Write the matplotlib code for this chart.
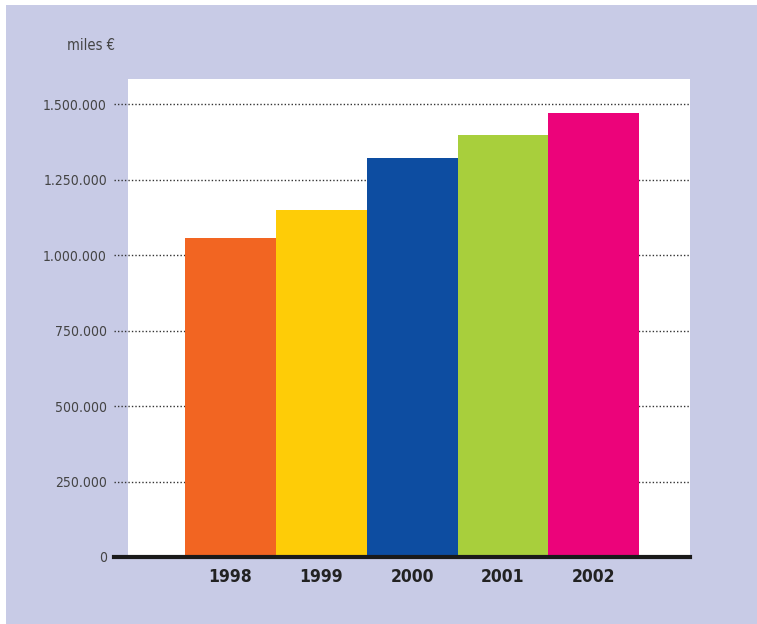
import matplotlib
matplotlib.use("Agg")
import matplotlib.pyplot as plt
from matplotlib.patches import Rectangle
from matplotlib.ticker import FuncFormatter, MultipleLocator
from matplotlib import font_manager

years = ["1998", "1999", "2000", "2001", "2002"]
values = [1056000, 1149000, 1321000, 1397000, 1470000]
colors = ["#F26522", "#FECC07", "#0D4DA1", "#A8CF3C", "#EC037A"]
unit_label = "miles €"

names = {f.name for f in font_manager.fontManager.ttflist}
fam = "Liberation Sans Narrow" if "Liberation Sans Narrow" in names else "DejaVu Sans"
plt.rcParams["font.family"] = [fam, "DejaVu Sans"]
plt.rcParams["font.stretch"] = "condensed"

W, H = 757, 624
fig = plt.figure(figsize=(W / 100, H / 100), dpi=100)
fig.patch.set_facecolor("white")
bg = "#C8CBE6"
fig.add_artist(Rectangle((6 / W, 0), 1 - 6 / W, 1 - 5 / H, transform=fig.transFigure,
                         facecolor=bg, edgecolor="none", zorder=-10))

ax = fig.add_axes([114 / W, 67 / H, 576 / W, 478 / H])
ax.set_facecolor("none")
ax.set_xlim(-1.283, 5.06)
ax.set_ylim(0, 1583000)

# white plot background
ax.axvspan(-1.129, 5.06, color="white", zorder=0, lw=0)

x = list(range(len(years)))
ax.bar(x, values, width=1.0, color=colors, zorder=2, linewidth=0)

ax.yaxis.set_major_locator(MultipleLocator(250000))
ax.yaxis.set_major_formatter(FuncFormatter(lambda v, p: f"{int(v):,}".replace(",", ".")))
ax.yaxis.grid(True, linestyle=(0, (1, 1.5)), color="#333333", linewidth=1.0, zorder=3)
for gl in ax.yaxis.get_gridlines():
    gl.set_zorder(3)

ax.set_xticks(x)
ax.set_xticklabels(years, fontsize=12.5, fontweight="bold", color="#222222", fontstretch="condensed")
for t in ax.get_yticklabels():
    t.set_fontstretch("condensed")
ax.tick_params(axis="x", length=0, pad=8)
ax.tick_params(axis="y", length=0, pad=5, labelsize=10, labelcolor="#444444")

for s in ["top", "right", "left"]:
    ax.spines[s].set_visible(False)
ax.spines["bottom"].set_linewidth(3)
ax.spines["bottom"].set_color("#1a1a1a")
ax.spines["bottom"].set_zorder(5)

fig.text(67 / W, 1 - 45 / H, unit_label, fontsize=10.5, color="#444444", va="center", ha="left",
         fontstretch="condensed")

fig.savefig("out.png", dpi=100)
